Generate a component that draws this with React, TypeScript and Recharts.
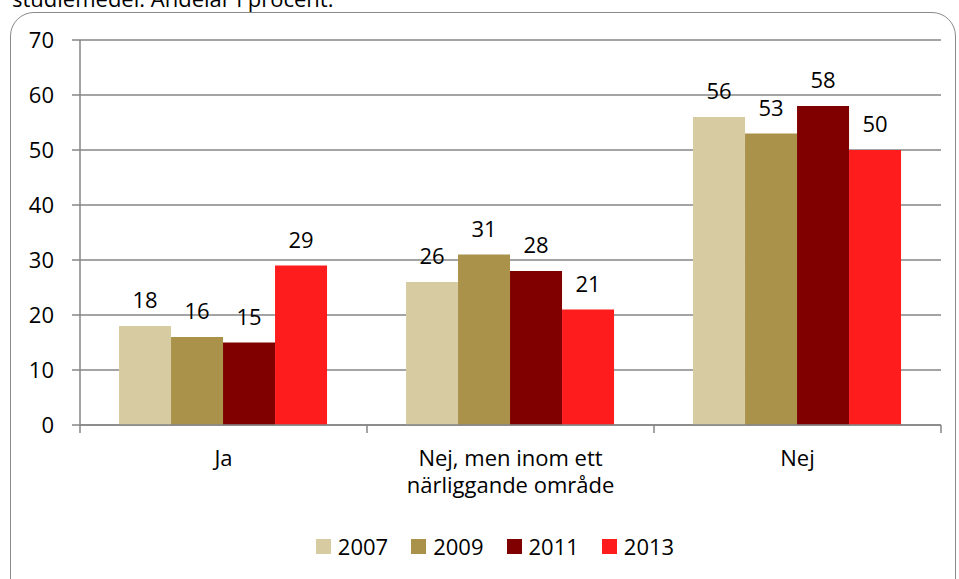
import React from 'react';
import { BarChart, Bar, XAxis, YAxis, CartesianGrid, Legend, LabelList } from 'recharts';

const categories = ['Ja', 'Nej, men inom ett|närliggande område', 'Nej'];
const years = ['2007', '2009', '2011', '2013'];
const v2007 = [18, 26, 56];
const v2009 = [16, 31, 53];
const v2011 = [15, 28, 58];
const v2013 = [29, 21, 50];
const yTicks = [0, 10, 20, 30, 40, 50, 60, 70];

const colors = ['#D7CBA1', '#AA924B', '#800000', '#FF1C1C'];
const seriesValues = [v2007, v2009, v2011, v2013];

const data = categories.map((c, i) => {
    const row: Record<string, string | number> = { name: c };
    years.forEach((y, k) => { row[y] = seriesValues[k][i]; });
    return row;
});

const W = 959;
const H = 579;
const M = { top: 40, right: 18, left: 0, bottom: 20 };
const Y_W = 80;
const HALF_BAND = (W - M.left - M.right - Y_W) / categories.length / 2;
const FONT = '"Open Sans", sans-serif';

const CategoryTick = (props: any) => {
    const { x, y, payload, index } = props;
    const lines = String(payload.value).split('|');
    return (
        <g>
            <line x1={x - HALF_BAND} x2={x - HALF_BAND} y1={y} y2={y + 8} stroke="#868686" strokeWidth={1.5} />
            {index === categories.length - 1 && (
                <line x1={x + HALF_BAND} x2={x + HALF_BAND} y1={y} y2={y + 8} stroke="#868686" strokeWidth={1.5} />
            )}
            {lines.map((l, i) => (
                <text key={i} x={x} y={y + 41 + i * 27} textAnchor="middle" fill="#000" fontSize={22} fontFamily={FONT}>
                    {l}
                </text>
            ))}
        </g>
    );
};

const LegendContent = () => (
    <div style={{ display: 'flex', justifyContent: 'center', alignItems: 'center', height: 26, fontFamily: FONT, fontSize: 22, color: '#000' }}>
        {years.map((y, i) => (
            <div key={y} style={{ display: 'flex', alignItems: 'center', marginRight: i < years.length - 1 ? 23 : 0 }}>
                <span style={{ display: 'inline-block', width: 15, height: 15, background: colors[i], marginRight: 7 }} />
                <span>{y}</span>
            </div>
        ))}
    </div>
);

export default function App() {
    return (
        <div style={{ position: 'absolute', left: 0, top: 0, width: W, height: H, overflow: 'hidden', background: '#fff' }}>
            <div style={{ position: 'absolute', left: 12, top: -17, fontFamily: FONT, fontSize: 22, color: '#000', whiteSpace: 'nowrap' }}>
                studiemedel. Andelar i procent.
            </div>
            <div style={{ position: 'absolute', left: 10, top: 12, width: 946, height: 620, border: '1.5px solid #8a8a8a', borderRadius: 24, boxSizing: 'border-box' }} />
            <div style={{ position: 'absolute', left: 0, top: 0 }}>
                <BarChart width={W} height={H} data={data} margin={M} barCategoryGap="13.6%" barGap={0}>
                    <CartesianGrid vertical={false} stroke="#868686" strokeWidth={1.5} />
                    <XAxis
                        dataKey="name"
                        height={108}
                        tickLine={false}
                        tickSize={0}
                        tickMargin={0}
                        axisLine={{ stroke: '#868686', strokeWidth: 1.5 }}
                        tick={<CategoryTick />}
                        interval={0}
                    />
                    <YAxis
                        width={Y_W}
                        domain={[0, 70]}
                        ticks={yTicks}
                        interval={0}
                        tickSize={8}
                        tickMargin={18}
                        tickLine={{ stroke: '#868686', strokeWidth: 1.5 }}
                        axisLine={{ stroke: '#868686', strokeWidth: 1.5 }}
                        tick={{ fill: '#000', fontSize: 22, fontFamily: FONT }}
                    />
                    <Legend
                        verticalAlign="bottom"
                        content={<LegendContent />}
                        wrapperStyle={{ left: 295, width: 400, height: 26 }}
                    />
                    {years.map((y, i) => (
                        <Bar key={y} dataKey={y} fill={colors[i]} isAnimationActive={false}>
                            <LabelList dataKey={y} position="top" offset={18} fill="#000" fontSize={22} fontFamily={FONT} />
                        </Bar>
                    ))}
                </BarChart>
            </div>
        </div>
    );
}
